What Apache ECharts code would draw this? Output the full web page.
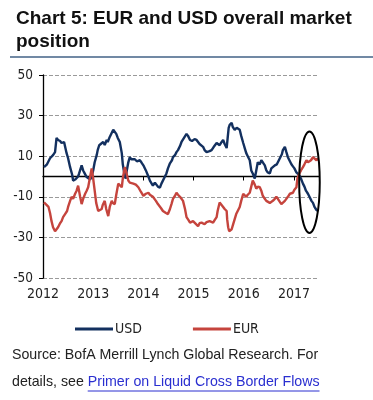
<!DOCTYPE html>
<html><head><meta charset="utf-8">
<script src="https://cdn.jsdelivr.net/npm/echarts@6/dist/echarts.min.js"></script>
<style>html,body{margin:0;padding:0;background:#fff}#c{width:373px;height:400px}</style>
</head><body><div id="c"></div>
<script>
// ---------- data ----------
const titleText = 'Chart 5: EUR and USD overall market\nposition';
const seriesNames = ['USD', 'EUR'];
const sourceLine1 = 'Source: BofA Merrill Lynch Global Research. For';
const sourceLine2a = 'details, see ';
const sourceLink = 'Primer on Liquid Cross Border Flows';

const usdDates = [2012.02,2012.08,2012.14,2012.20,2012.24,2012.27,2012.30,2012.34,2012.37,2012.42,2012.47,2012.50,2012.54,2012.58,2012.60,2012.64,2012.67,2012.70,2012.72,2012.77,2012.80,2012.82,2012.87,2012.90,2012.94,2012.97,
2013.00,2013.03,2013.07,2013.09,2013.12,2013.15,2013.20,2013.23,2013.27,2013.29,2013.33,2013.36,2013.40,2013.43,2013.46,2013.49,2013.53,2013.57,2013.59,2013.63,2013.65,2013.67,2013.70,2013.73,2013.76,2013.79,2013.83,2013.87,2013.93,2013.96,
2014.00,2014.05,2014.10,2014.13,2014.19,2014.23,2014.29,2014.33,2014.36,2014.39,2014.43,2014.46,2014.49,2014.53,2014.57,2014.59,2014.63,2014.66,2014.69,2014.73,2014.76,2014.81,2014.86,2014.89,2014.93,2014.97,
2015.02,2015.06,2015.09,2015.12,2015.19,2015.22,2015.26,2015.29,2015.32,2015.36,2015.40,2015.46,2015.48,2015.52,2015.56,2015.59,2015.62,2015.66,2015.68,2015.70,2015.72,2015.76,2015.78,2015.82,2015.86,2015.92,2015.95,2015.99,
2016.02,2016.05,2016.08,2016.12,2016.15,2016.18,2016.22,2016.25,2016.28,2016.32,2016.35,2016.38,2016.42,2016.45,2016.48,2016.52,2016.55,2016.58,2016.62,2016.66,2016.72,2016.76,2016.78,2016.82,2016.85,2016.88,2016.92,2016.95,2016.98,
2017.01,2017.05,2017.08,2017.11,2017.14,2017.18,2017.21,2017.24,2017.28,2017.31,2017.35,2017.38,2017.41,2017.45,2017.48];
const usdValues = [4.6,6,9,10.5,12,19,18,17.5,16.5,17,11.5,9,4.6,1,-2,-1.5,-2,0,1.5,5.5,3,2,-0.3,-1,-1.5,0,
3,7,10.5,13,15.4,16,17,15.5,18,17,19.5,20,23,22.5,21,19,17,11.5,6,0,-1,3,7,9.5,8.5,8,8.5,7.5,8,7,
5.5,3,0,-2,-4.5,-3,-5,-5.5,-3.5,-3.5,0,1.5,4,6.5,8,9.5,10.5,12,13,15,17,19,21,20,18,17.5,
18.4,18,17,16,14.6,13,12,11.5,12.5,13,14.5,16.5,16,15.4,17,18,16,14,19,24,25.4,26.4,24.5,23,24,23,20,16.5,
14,11.5,10,8,3,1.5,-1,3,7,6,8,7,5.5,3,2,1.5,4,3.5,5.5,6,9,11,13,14.6,12,9.5,7.5,6,5,
4,2,1.5,0.5,-1,-3.5,-5,-7,-8.5,-10,-12,-13,-15,-16.5,-17];

const eurDates = [2012.02,2012.04,2012.07,2012.11,2012.14,2012.17,2012.20,2012.24,2012.27,2012.30,2012.34,2012.37,2012.40,2012.44,2012.48,2012.50,2012.54,2012.57,2012.60,2012.64,2012.67,2012.70,2012.74,2012.77,2012.80,2012.84,2012.87,2012.90,2012.94,2012.97,
2013.00,2013.03,2013.06,2013.10,2013.13,2013.17,2013.19,2013.23,2013.26,2013.30,2013.33,2013.37,2013.39,2013.43,2013.46,2013.50,2013.53,2013.57,2013.59,2013.63,2013.66,2013.70,2013.73,2013.80,2013.85,2013.90,2013.95,
2014.00,2014.05,2014.10,2014.13,2014.19,2014.25,2014.29,2014.35,2014.39,2014.45,2014.49,2014.53,2014.56,2014.59,2014.63,2014.66,2014.69,2014.73,2014.76,2014.79,2014.83,2014.86,2014.90,2014.93,2014.96,2014.99,
2015.02,2015.05,2015.09,2015.12,2015.16,2015.18,2015.22,2015.26,2015.32,2015.35,2015.39,2015.42,2015.46,2015.48,2015.52,2015.55,2015.59,2015.62,2015.66,2015.67,2015.69,2015.71,2015.74,2015.76,2015.79,2015.82,2015.85,2015.88,2015.92,2015.95,2015.99,
2016.02,2016.05,2016.08,2016.12,2016.15,2016.18,2016.22,2016.25,2016.28,2016.32,2016.35,2016.38,2016.42,2016.45,2016.48,2016.52,2016.55,2016.58,2016.62,2016.65,2016.68,2016.72,2016.75,2016.78,2016.82,2016.85,2016.88,2016.92,2016.95,2016.98,
2017.01,2017.05,2017.07,2017.11,2017.14,2017.18,2017.21,2017.25,2017.28,2017.31,2017.34,2017.38,2017.41,2017.45,2017.48];
const eurValues = [-12.8,-12.8,-14,-15,-18,-22,-25,-27,-26,-25,-23,-22,-20,-18.5,-17,-15,-12,-10,-11,-8.5,-7,-4.5,-10,-13.6,-11,-8.5,-7,-5.3,0,4,
-1,-7,-13,-17,-17.5,-16,-14,-12,-16,-19.5,-15,-12,-13,-13.6,-9,-3.5,-4,-5.3,-1,4.6,2,-2,-3,-3.5,-4,-5.3,-7.5,
-9.5,-8.5,-8,-9,-10,-12,-13.6,-15.5,-17,-18,-18.5,-16,-13.6,-11,-9.5,-8,-9,-10,-11,-12,-16,-20,-21.5,-22.7,-22.7,-22,
-22,-23.5,-24.5,-23,-22.7,-23.5,-23.5,-22.5,-22,-22.5,-22.7,-21.5,-20,-17,-12.8,-13.5,-15,-16,-17,-21,-25,-27,-27.7,-26,-23.5,-21,-18.5,-17,-15,-12,-8.5,
-9,-10,-9,-8,-5,-2,-4,-6,-5,-5.3,-7,-9.5,-11,-12,-12,-13,-12.8,-12,-11,-10,-11,-12.5,-13.6,-13,-12,-12,-10,-8.5,-8,-8,
-6.5,-5.3,-1,1.5,3,4.6,6,8,7,6.5,8,9.5,9,8,9];

const xMin = 2012, xMax = 2017.5, xStep = 1;
const yMin = -50, yMax = 50, yStep = 20;
// annotation ellipse (data units)
const ringCenter = [2017.31, -2.8];
const ringHalfWidth = 0.205;
const ringHalfHeight = 25;

// ---------- chart ----------
const usdColor = '#13305f';
const eurColor = '#c5443d';
const narrow = "'Liberation Sans Narrow','Arial Narrow','DejaVu Sans Condensed',sans-serif";
const sans = "'Liberation Sans',Arial,sans-serif";

const chart = echarts.init(document.getElementById('c'), null, {renderer: 'canvas'});

function zip(a, b) { return a.map((d, i) => [d, b[i]]); }

const option = {
  animation: false,
  backgroundColor: '#fff',
  title: {
    text: titleText,
    left: 11, top: 2,
    textStyle: {fontFamily: sans, fontWeight: 'bold', fontSize: 19, lineHeight: 23.5, color: '#111'}
  },
  grid: {left: 43, right: 54, top: 75, bottom: 122, containLabel: false},
  legend: {
    data: seriesNames,
    icon: 'rect',
    left: 70, top: 317,
    itemWidth: 38, itemHeight: 3, itemGap: 51,
    textStyle: {fontFamily: narrow, fontSize: 14, color: '#222', padding: [0,0,0,-3]}
  },
  xAxis: [{
    type: 'value', min: xMin, max: xMax, interval: xStep,
    position: 'bottom',
    axisLine: {show: false, onZero: false},
    axisTick: {show: false},
    splitLine: {show: false},
    axisLabel: {
      margin: 9, fontFamily: narrow, fontSize: 14, color: '#222',
      formatter: v => (Number.isInteger(v) ? String(v) : '')
    }
  }, {
    type: 'value', min: xMin, max: xMax, interval: xStep,
    position: 'top',
    axisLine: {show: true, onZero: true, lineStyle: {color: '#000', width: 1.3}},
    axisTick: {show: true, inside: true, length: 4, lineStyle: {color: '#000', width: 1}},
    axisLabel: {show: false},
    splitLine: {show: false}
  }],
  yAxis: {
    type: 'value', min: yMin, max: yMax, interval: yStep,
    axisLine: {show: true, lineStyle: {color: '#000', width: 1.3}},
    axisTick: {show: true, length: 4, lineStyle: {color: '#000'}},
    axisLabel: {margin: 10, fontFamily: narrow, fontSize: 13.5, color: '#222'},
    splitLine: {show: true, lineStyle: {color: '#9a9a9a', type: [4, 2], width: 1}}
  },
  series: [{
    name: seriesNames[0], type: 'line', xAxisIndex: 0,
    data: zip(usdDates, usdValues),
    symbol: 'none', showSymbol: false,
    lineStyle: {color: usdColor, width: 2.4},
    itemStyle: {color: usdColor}
  }, {
    name: seriesNames[1], type: 'line', xAxisIndex: 0,
    data: zip(eurDates, eurValues),
    symbol: 'none', showSymbol: false,
    lineStyle: {color: eurColor, width: 2.4},
    itemStyle: {color: eurColor}
  }]
};
chart.setOption(option);

// ---------- annotations / footer ----------
const srcFont = '14.2px ' + sans;
const ctx = document.createElement('canvas').getContext('2d');
ctx.font = srcFont;
const wLead = ctx.measureText(sourceLine2a).width;
const wLink = ctx.measureText(sourceLink).width;

const c = chart.convertToPixel({xAxisIndex: 0, yAxisIndex: 0}, ringCenter);
const e = chart.convertToPixel({xAxisIndex: 0, yAxisIndex: 0}, [ringCenter[0] + ringHalfWidth, ringCenter[1] + ringHalfHeight]);
const srcX = 12;

chart.setOption({
  graphic: [
    {type: 'line', shape: {x1: 10, y1: 57, x2: 373, y2: 57}, style: {stroke: '#7189a4', lineWidth: 2}},
    {type: 'ellipse', shape: {cx: c[0], cy: c[1], rx: e[0] - c[0], ry: c[1] - e[1]},
     style: {fill: 'none', stroke: '#000', lineWidth: 2}, z: 10},
    {type: 'text', x: srcX, y: 355, style: {text: sourceLine1, font: srcFont, fill: '#222', verticalAlign: 'middle'}},
    {type: 'text', x: srcX, y: 382, style: {text: sourceLine2a, font: srcFont, fill: '#222', verticalAlign: 'middle'}},
    {type: 'text', x: srcX + wLead, y: 382, style: {text: sourceLink, font: srcFont, fill: '#2a2fd0', verticalAlign: 'middle'}},
    {type: 'line', shape: {x1: srcX + wLead, y1: 391, x2: srcX + wLead + wLink, y2: 391}, style: {stroke: '#2a2fd0', lineWidth: 1}}
  ]
});
</script>
</body></html>
